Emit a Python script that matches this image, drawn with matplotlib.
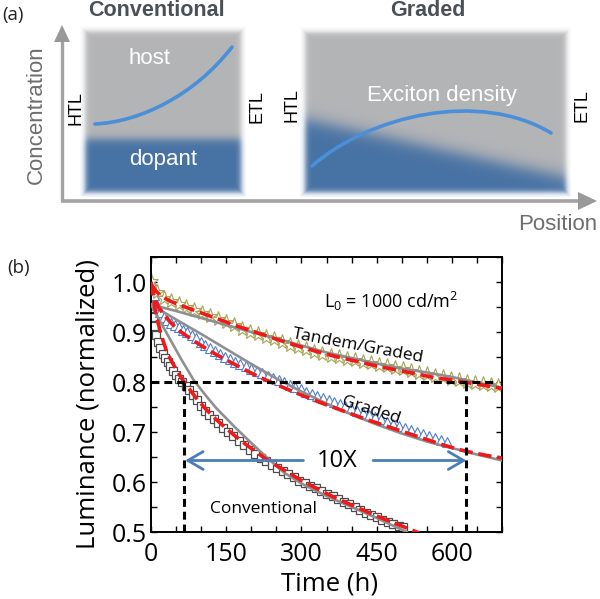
import numpy as np
import matplotlib.pyplot as plt
from matplotlib.path import Path
from matplotlib.patches import PathPatch, Polygon

plt.rcParams['font.family'] = ['Open Sans', 'DejaVu Sans']
plt.rcParams['mathtext.fontset'] = 'custom'
plt.rcParams['mathtext.rm'] = 'Open Sans'
plt.rcParams['mathtext.it'] = 'Open Sans:italic'

# ---- panel (b) data ----
# conventional device (squares)
t_conv = [0, 3, 6, 10, 14, 18, 23, 28, 33, 38, 44, 50, 56, 62, 69, 76, 83, 91, 99, 107,
          116, 125, 134, 144, 154, 164, 175, 186, 197, 208, 219, 230, 241, 252, 263, 274,
          285, 296, 307, 318, 329, 340, 351, 362, 373, 384, 395, 406, 417, 428, 439, 450,
          461, 472, 483, 494, 502]
L_conv = [0.948, 0.930, 0.912, 0.895, 0.880, 0.868, 0.857, 0.848, 0.840, 0.832, 0.823,
          0.815, 0.807, 0.800, 0.792, 0.785, 0.775, 0.764, 0.753, 0.743, 0.735, 0.727,
          0.718, 0.709, 0.700, 0.692, 0.683, 0.674, 0.665, 0.657, 0.649, 0.642, 0.635,
          0.629, 0.622, 0.616, 0.610, 0.603, 0.598, 0.593, 0.588, 0.583, 0.577, 0.572,
          0.567, 0.561, 0.556, 0.550, 0.544, 0.539, 0.534, 0.530, 0.525, 0.521, 0.517,
          0.513, 0.510]
# graded device (triangles)
t_grad = [0, 5, 11, 18, 25, 32, 40, 48, 56, 64, 72, 81, 90, 99, 108, 118, 128, 138, 148,
          158, 168, 178, 189, 200, 211, 222, 233, 244, 255, 266, 277, 288, 299, 310, 321,
          332, 343, 354, 365, 376, 387, 398, 410, 422, 434, 446, 458, 470, 482, 494, 506,
          518, 530, 542, 554, 566, 578, 590]
L_grad = [1.005, 0.975, 0.954, 0.940, 0.931, 0.925, 0.919, 0.914, 0.910, 0.905, 0.900,
          0.894, 0.888, 0.881, 0.874, 0.868, 0.862, 0.857, 0.851, 0.846, 0.841, 0.837,
          0.832, 0.827, 0.822, 0.818, 0.813, 0.809, 0.805, 0.800, 0.795, 0.790, 0.786,
          0.781, 0.777, 0.772, 0.768, 0.764, 0.760, 0.756, 0.752, 0.748, 0.743, 0.739,
          0.734, 0.730, 0.726, 0.721, 0.717, 0.713, 0.709, 0.705, 0.701, 0.697, 0.693,
          0.689, 0.685, 0.681]
# tandem/graded device (stars)
t_tand = [0, 12, 26, 40, 55, 70, 86, 102, 118, 134, 150, 166, 182, 198, 214, 230, 246,
          262, 278, 294, 310, 326, 342, 358, 374, 390, 406, 422, 438, 454, 470, 486, 502,
          518, 534, 550, 566, 582, 598, 614, 630, 646, 662, 678, 692]
L_tand = [1.002, 0.980, 0.969, 0.963, 0.957, 0.951, 0.945, 0.938, 0.932, 0.926, 0.920,
          0.914, 0.907, 0.901, 0.896, 0.891, 0.886, 0.880, 0.875, 0.870, 0.866, 0.861,
          0.857, 0.853, 0.850, 0.847, 0.844, 0.841, 0.838, 0.835, 0.832, 0.829, 0.826,
          0.822, 0.819, 0.816, 0.813, 0.810, 0.807, 0.804, 0.801, 0.799, 0.797, 0.795,
          0.793]

# red dashed fits
tf_conv = [0, 5, 10, 20, 30, 40, 50, 62, 75, 90, 110, 130, 150, 175, 200, 225, 250, 275,
           300, 325, 350, 375, 400, 425, 450, 475, 500, 525, 535]
Lf_conv = [1.0, 0.965, 0.935, 0.895, 0.865, 0.843, 0.826, 0.806, 0.788, 0.768, 0.745,
           0.725, 0.707, 0.686, 0.667, 0.649, 0.633, 0.618, 0.603, 0.590, 0.577, 0.565,
           0.554, 0.543, 0.532, 0.522, 0.512, 0.502, 0.498]
tf_grad = [0, 8, 15, 25, 40, 60, 80, 100, 130, 160, 190, 220, 250, 280, 310, 340, 370,
           400, 430, 460, 490, 520, 550, 580, 610, 640, 670, 700]
Lf_grad = [1.0, 0.965, 0.950, 0.935, 0.918, 0.900, 0.886, 0.873, 0.855, 0.839, 0.823,
           0.808, 0.795, 0.782, 0.770, 0.758, 0.747, 0.736, 0.725, 0.715, 0.705, 0.695,
           0.685, 0.675, 0.666, 0.659, 0.653, 0.648]
tf_tand = [0, 10, 20, 40, 60, 90, 120, 150, 180, 210, 240, 270, 300, 330, 360, 390, 420,
           450, 480, 510, 540, 570, 600, 630, 660, 700]
Lf_tand = [0.995, 0.982, 0.972, 0.961, 0.953, 0.942, 0.931, 0.920, 0.909, 0.899, 0.889,
           0.879, 0.870, 0.861, 0.853, 0.846, 0.839, 0.832, 0.826, 0.820, 0.814, 0.808,
           0.804, 0.799, 0.794, 0.787]

# gray solid fits
tg_conv = [0, 20, 40, 60, 85, 110, 130, 165, 200, 230, 265, 300, 350, 400, 450, 510]
Lg_conv = [0.955, 0.918, 0.882, 0.846, 0.804, 0.772, 0.748, 0.712, 0.678, 0.650, 0.619,
           0.597, 0.572, 0.550, 0.528, 0.500]
tg_grad = [0, 50, 100, 150, 200, 250, 300, 350, 400, 450, 500, 550, 600, 650, 700]
Lg_grad = [0.955, 0.925, 0.896, 0.866, 0.836, 0.807, 0.781, 0.757, 0.735, 0.715, 0.697,
           0.681, 0.668, 0.655, 0.643]
tg_tand = [0, 50, 100, 150, 200, 250, 300, 350, 400, 450, 500, 550, 600, 650, 700]
Lg_tand = [0.955, 0.942, 0.928, 0.914, 0.900, 0.887, 0.873, 0.859, 0.848, 0.837, 0.827,
           0.819, 0.810, 0.799, 0.789]

t80_conv = 65
t80_tand = 629
arrow_L = 0.643

fig = plt.figure(figsize=(6, 5.99), dpi=100)

# ---------------- panel (a): schematic, drawn in pixel units ----------------
bg = fig.add_axes([0, 0, 1, 1])
bg.set_xlim(0, 600)
bg.set_ylim(599, 0)
bg.axis('off')

gray_c = np.array([180, 181, 183]) / 255
blue_c = np.array([70, 113, 164]) / 255


def sig(z):
    return 1 / (1 + np.exp(-z))


def soft_box(x0, x1, y0, y1, edge_left, edge_right, blur):
    xs = np.arange(x0 - 5, x1 + 5, 0.5)
    ys = np.arange(y0 - 5, y1 + 5, 0.5)
    X, Y = np.meshgrid(xs, ys)
    yb = edge_left + (X - x0) * (edge_right - edge_left) / (x1 - x0)
    m = sig((Y - yb) / blur)[..., None]
    rgb = gray_c * (1 - m) + blue_c * m
    d = np.minimum.reduce([X - x0, x1 - X, Y - y0, y1 - Y])
    a = sig(d / 1.6)[..., None]
    img = np.concatenate([rgb, a], axis=2)
    bg.imshow(img, extent=(xs[0], xs[-1], ys[-1], ys[0]), origin='upper',
              aspect='auto', interpolation='bilinear', zorder=1)


soft_box(85, 241, 32, 193, 140, 140, 2.5)
soft_box(305, 566, 33, 193, 120, 178, 4.5)

# axes arrows
ac = '#a3a3a3'
bg.plot([62, 62], [201, 40], color=ac, lw=2.4, solid_capstyle='butt', zorder=0)
bg.add_patch(Polygon([[54, 42], [70, 42], [62, 25]], closed=True, color='#999999', lw=0))
bg.plot([61, 580], [201, 201], color=ac, lw=2.6, solid_capstyle='butt', zorder=0)
bg.add_patch(Polygon([[578, 192], [578, 210], [597, 201]], closed=True, color='#999999', lw=0))

# blue exciton curves
cb = '#4a8fd8'
p1 = Path([(95, 124), (140, 122), (195, 95), (232, 47)],
          [Path.MOVETO, Path.CURVE4, Path.CURVE4, Path.CURVE4])
bg.add_patch(PathPatch(p1, fc='none', ec=cb, lw=2.6, capstyle='round', zorder=3))
p2 = Path([(312, 166), (370, 115), (480, 90), (551, 133)],
          [Path.MOVETO, Path.CURVE4, Path.CURVE4, Path.CURVE4])
bg.add_patch(PathPatch(p2, fc='none', ec=cb, lw=2.6, capstyle='round', zorder=3))

fa = ['Liberation Sans', 'DejaVu Sans']
bg.text(2, 15, '(a)', fontsize=13.5, va='center', ha='left', color='#222222')
bg.text(156, 10, 'Conventional', family=fa, fontsize=15.5, fontweight='bold',
        color='#4b5058', ha='center', va='center')
bg.text(428, 10, 'Graded', family=fa, fontsize=15.5, fontweight='bold',
        color='#4b5058', ha='center', va='center')
bg.text(149, 58, 'host', family=fa, fontsize=16, color='white', ha='center', va='center', zorder=4)
bg.text(163, 160, 'dopant', family=fa, fontsize=16, color='white', ha='center', va='center', zorder=4)
bg.text(442, 95, 'Exciton density', family=fa, fontsize=16, color='white',
        ha='center', va='center', zorder=4)
for x, y, s in [(76, 108, 'HTL'), (257, 107, 'ETL'), (292, 105, 'HTL'), (582, 106, 'ETL')]:
    bg.text(x, y, s, family=fa, fontsize=13, rotation=90, ha='center', va='center', color='black')
bg.text(36, 115, 'Concentration', family=fa, fontsize=16, rotation=90,
        ha='center', va='center', color='#6e6e6e')
bg.text(558, 225, 'Position', family=fa, fontsize=16, ha='center', va='center', color='#6e6e6e')

# ---------------- panel (b): luminance decay ----------------
fig.text(19 / 600, 1 - 268 / 599, '(b)', fontsize=13.5, ha='center', va='center', color='#222222')

ax = fig.add_axes([151 / 600, 1 - 532 / 599, 351 / 600, 275 / 599])

ax.plot(t_conv, L_conv, ls='none', marker='s', ms=5.2, mfc='white', mec='#4d4d4d', mew=0.9, zorder=2)
ax.plot(t_grad, L_grad, ls='none', marker='^', ms=7.5, mfc='white', mec='#4f7fd0', mew=0.8, zorder=2)
ax.plot(t_tand, L_tand, ls='none', marker='*', ms=11, mfc='white', mec='#a8a455', mew=0.8, zorder=2)

for tt, LL in [(tg_conv, Lg_conv), (tg_grad, Lg_grad), (tg_tand, Lg_tand)]:
    ax.plot(tt, LL, color='#8f8f8f', lw=1.9, zorder=3)
for tt, LL in [(tf_conv, Lf_conv), (tf_grad, Lf_grad), (tf_tand, Lf_tand)]:
    ax.plot(tt, LL, color='#f01818', lw=2.6, ls='--', zorder=4)

kd = dict(color='black', lw=2.2, ls=(0, (2.6, 1.6)), zorder=5)
ax.plot([0, 685], [0.8, 0.8], **kd)
ax.plot([t80_conv, t80_conv], [0.5, 0.8], **kd)
ax.plot([t80_tand, t80_tand], [0.5, 0.8], **kd)

ap = dict(arrowstyle='->,head_length=0.55,head_width=0.32', color='#4a7ebb', lw=2.0,
          mutation_scale=20, shrinkA=0, shrinkB=0)
ax.annotate('', xy=(t80_conv + 3, arrow_L), xytext=(304, arrow_L), arrowprops=ap, zorder=6)
ax.annotate('', xy=(t80_tand, arrow_L), xytext=(443, arrow_L), arrowprops=ap, zorder=6)
ax.text(372, arrow_L, '10X', fontsize=17, ha='center', va='center')

ax.text(480, 0.962, r'L$_0$ = 1000 cd/m$^2$', fontsize=13, ha='center', va='center')
ax.text(413, 0.871, 'Tandem/Graded', fontsize=12.5, rotation=-10.5, ha='center', va='center',
        rotation_mode='anchor')
ax.text(438, 0.742, 'Graded', fontsize=12.5, rotation=-18, ha='center', va='center',
        rotation_mode='anchor')
ax.text(225, 0.546, 'Conventional', fontsize=12.5, ha='center', va='center')

ax.set_xlim(0, 700)
ax.set_ylim(0.5, 1.05)
ax.set_xticks([0, 150, 300, 450, 600])
ax.set_xticks(np.arange(0, 701, 50), minor=True)
yt = [0.5, 0.6, 0.7, 0.8, 0.9, 1.0]
ax.set_yticks(yt)
ax.set_yticklabels(['%.1f' % v for v in yt])
ax.set_yticks(np.arange(0.5, 1.051, 0.05), minor=True)
ax.tick_params(which='both', direction='in', top=True, right=True, length=4.5, width=1.0)
ax.tick_params(axis='both', labelsize=18)
ax.tick_params(axis='y', pad=3)
ax.tick_params(axis='x', pad=7)
for s in ax.spines.values():
    s.set_linewidth(1.4)

ax.set_ylabel('Luminance (normalized)', fontsize=18.5, va='center')
ax.yaxis.set_label_coords((88 - 151) / 351, (532 - 404) / 275)
ax.set_xlabel('Time (h)', fontsize=18.5, va='center')
ax.xaxis.set_label_coords((330 - 151) / 351, (532 - 584) / 275)

fig.savefig('out.png', dpi=100)
